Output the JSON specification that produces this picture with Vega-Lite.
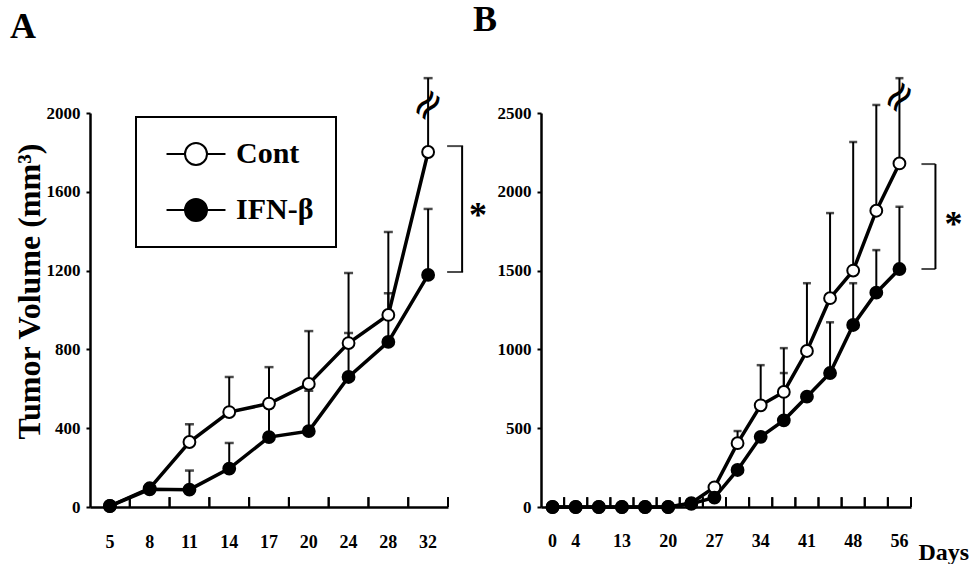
{
  "$schema": "https://vega.github.io/schema/vega-lite/v6.json",
  "background": "white",
  "padding": {"left": 10, "top": 2, "right": 0, "bottom": 0},
  "config": {
    "font": "Liberation Serif",
    "view": {"stroke": null},
    "axis": {"domainColor": "black", "domainWidth": 2.5, "tickColor": "black", "tickWidth": 2, "labelColor": "black", "labelFont": "Liberation Serif", "labelFontWeight": "bold", "grid": false, "titleColor": "black", "titleFont": "Liberation Serif", "titleFontWeight": "bold"},
    "axisX": {"ticks": false, "labelPadding": 26, "labelFontSize": 18, "labelAngle": 0, "labelOverlap": false, "labelFlush": false},
    "axisY": {"ticks": true, "tickSize": 4, "labelPadding": 6, "labelFontSize": 17, "format": "d"},
    "title": {"font": "Liberation Serif", "fontWeight": "bold", "fontSize": 36, "anchor": "start", "color": "black", "frame": "group"},
    "legend": {"strokeWidth": 2}
  },
  "bounds": "flush",
  "spacing": 93,
  "resolve": {"scale": {"x": "independent", "y": "independent", "fill": "independent"}, "legend": {"fill": "independent"}},
  "datasets": {
    "A": [
      {"day": "5", "group": "Cont", "v": 5, "up": null},
      {"day": "8", "group": "Cont", "v": 95, "up": null},
      {"day": "11", "group": "Cont", "v": 330, "up": 420},
      {"day": "14", "group": "Cont", "v": 482, "up": 660},
      {"day": "17", "group": "Cont", "v": 525, "up": 710},
      {"day": "20", "group": "Cont", "v": 625, "up": 893},
      {"day": "24", "group": "Cont", "v": 832, "up": 1188},
      {"day": "28", "group": "Cont", "v": 975, "up": 1396},
      {"day": "32", "group": "Cont", "v": 1802, "up": 2177},
      {"day": "5", "group": "IFN-β", "v": 5, "up": null},
      {"day": "8", "group": "IFN-β", "v": 90, "up": null},
      {"day": "11", "group": "IFN-β", "v": 88, "up": 185},
      {"day": "14", "group": "IFN-β", "v": 195, "up": 325},
      {"day": "17", "group": "IFN-β", "v": 355, "up": 505},
      {"day": "20", "group": "IFN-β", "v": 385, "up": 590},
      {"day": "24", "group": "IFN-β", "v": 660, "up": 883},
      {"day": "28", "group": "IFN-β", "v": 838, "up": 1085},
      {"day": "32", "group": "IFN-β", "v": 1178, "up": 1513}
    ],
    "annA": [{"day": "32", "top": 1832, "bottom": 1193, "mid": 1505, "brk": 2040}],
    "B": [
      {"day": "0", "group": "Cont", "v": 0, "up": null},
      {"day": "4", "group": "Cont", "v": 0, "up": null},
      {"day": "8", "group": "Cont", "v": 0, "up": null},
      {"day": "13", "group": "Cont", "v": 0, "up": null},
      {"day": "16", "group": "Cont", "v": 0, "up": null},
      {"day": "20", "group": "Cont", "v": 0, "up": null},
      {"day": "23", "group": "Cont", "v": 25, "up": null},
      {"day": "27", "group": "Cont", "v": 125, "up": null},
      {"day": "30", "group": "Cont", "v": 405, "up": 482},
      {"day": "34", "group": "Cont", "v": 645, "up": 900},
      {"day": "37", "group": "Cont", "v": 730, "up": 1008},
      {"day": "41", "group": "Cont", "v": 990, "up": 1420},
      {"day": "44", "group": "Cont", "v": 1325, "up": 1865},
      {"day": "48", "group": "Cont", "v": 1500, "up": 2316},
      {"day": "52", "group": "Cont", "v": 1880, "up": 2551},
      {"day": "56", "group": "Cont", "v": 2180, "up": 2721},
      {"day": "0", "group": "IFN-β", "v": 0, "up": null},
      {"day": "4", "group": "IFN-β", "v": 0, "up": null},
      {"day": "8", "group": "IFN-β", "v": 0, "up": null},
      {"day": "13", "group": "IFN-β", "v": 0, "up": null},
      {"day": "16", "group": "IFN-β", "v": 0, "up": null},
      {"day": "20", "group": "IFN-β", "v": 0, "up": null},
      {"day": "23", "group": "IFN-β", "v": 20, "up": null},
      {"day": "27", "group": "IFN-β", "v": 60, "up": null},
      {"day": "30", "group": "IFN-β", "v": 235, "up": null},
      {"day": "34", "group": "IFN-β", "v": 445, "up": null},
      {"day": "37", "group": "IFN-β", "v": 550, "up": 850},
      {"day": "41", "group": "IFN-β", "v": 700, "up": null},
      {"day": "44", "group": "IFN-β", "v": 850, "up": 1172},
      {"day": "48", "group": "IFN-β", "v": 1155, "up": 1420},
      {"day": "52", "group": "IFN-β", "v": 1360, "up": 1630},
      {"day": "56", "group": "IFN-β", "v": 1510, "up": 1905}
    ],
    "annB": [{"day": "56", "top": 2176, "bottom": 1510, "mid": 1821, "brk": 2600}]
  },
  "hconcat": [
    {
      "width": 358,
      "height": 394,
      "title": {"text": "A", "dx": -80, "offset": 31},
      "encoding": {
        "x": {"field": "day", "type": "ordinal", "sort": null, "scale": {"type": "band", "paddingInner": 0, "paddingOuter": 0, "domain": ["5", "8", "11", "14", "17", "20", "24", "28", "32"]}, "axis": {"title": null}},
        "y": {"field": "v", "type": "quantitative", "scale": {"domain": [0, 2000], "nice": false}, "axis": {"values": [0, 400, 800, 1200, 1600, 2000], "title": "Tumor Volume (mm³)", "titleFontSize": 32, "titlePadding": 0, "titleY": 178}}
      },
      "layer": [
        {"data": {"name": "A"}, "mark": {"type": "rule", "color": "black", "strokeWidth": 2, "xOffset": 19.9, "clip": false}, "encoding": {"y": {"datum": 0, "type": "quantitative"}, "y2": {"datum": 50}}},
        {"data": {"name": "A"}, "transform": [{"filter": "isValid(datum.up)"}], "mark": {"type": "rule", "color": "black", "strokeWidth": 2, "clip": false}, "encoding": {"y2": {"field": "up"}}},
        {"data": {"name": "A"}, "transform": [{"filter": "isValid(datum.up)"}], "mark": {"type": "tick", "color": "black", "size": 9, "thickness": 2.5, "clip": false}, "encoding": {"y": {"field": "up", "type": "quantitative"}}},
        {"data": {"name": "A"}, "mark": {"type": "line", "color": "black", "strokeWidth": 3.5}, "encoding": {"detail": {"field": "group"}}},
        {"data": {"name": "A"}, "mark": {"type": "point", "shape": "circle", "filled": true, "size": 140, "stroke": "black", "strokeWidth": 2, "opacity": 1},
         "encoding": {"fill": {"field": "group", "type": "nominal", "scale": {"domain": ["Cont", "IFN-β"], "range": ["white", "black"]},
           "legend": {"title": null, "orient": "none", "legendX": 46, "legendY": 4, "symbolType": "M-2.68,0L-1,0M1,0L2.68,0M-1,0A1,1 0 1 1 1,0A1,1 0 1 1 -1,0Z", "symbolSize": 484, "symbolStrokeWidth": 2, "symbolStrokeColor": "black", "labelFontSize": 30, "labelFont": "Liberation Serif", "labelFontWeight": "bold", "labelColor": "black", "labelOffset": 25, "padding": 22, "symbolOffset": 23, "rowPadding": 26, "strokeColor": "black"}}}},
        {"data": {"name": "annA"}, "mark": {"type": "rule", "color": "black", "strokeWidth": 2, "xOffset": 34, "clip": false}, "encoding": {"y": {"field": "top", "type": "quantitative"}, "y2": {"field": "bottom"}}},
        {"data": {"name": "annA"}, "mark": {"type": "tick", "color": "black", "size": 16, "thickness": 2, "xOffset": 27, "clip": false}, "encoding": {"y": {"field": "top", "type": "quantitative"}}},
        {"data": {"name": "annA"}, "mark": {"type": "tick", "color": "black", "size": 16, "thickness": 2, "xOffset": 27, "clip": false}, "encoding": {"y": {"field": "bottom", "type": "quantitative"}}},
        {"data": {"name": "annA"}, "mark": {"type": "text", "text": "*", "font": "Liberation Serif", "fontWeight": "bold", "fontSize": 36, "xOffset": 50, "dy": 5, "color": "black", "clip": false}, "encoding": {"y": {"field": "mid", "type": "quantitative"}}},
        {"data": {"name": "annA"}, "mark": {"type": "text", "text": "≈", "font": "DejaVu Sans", "fontSize": 42, "angle": -50, "color": "black", "clip": false}, "encoding": {"y": {"field": "brk", "type": "quantitative"}}}
      ]
    },
    {
      "width": 370,
      "height": 394,
      "title": {"text": "B", "dx": -68, "offset": 31},
      "encoding": {
        "x": {"field": "day", "type": "ordinal", "sort": null, "scale": {"type": "band", "paddingInner": 0, "paddingOuter": 0, "domain": ["0", "4", "8", "13", "16", "20", "23", "27", "30", "34", "37", "41", "44", "48", "52", "56"]},
          "axis": {"labelPadding": 25, "labelExpr": "indexof(['0','4','13','20','27','34','41','48','56'], datum.value) >= 0 ? datum.label : ''", "title": "Days", "titleFontSize": 24, "titleX": 377, "titleY": 52, "titleAlign": "left", "titleBaseline": "alphabetic", "titleAngle": 0}},
        "y": {"field": "v", "type": "quantitative", "scale": {"domain": [0, 2500], "nice": false}, "axis": {"values": [0, 500, 1000, 1500, 2000, 2500], "title": null}}
      },
      "layer": [
        {"data": {"name": "B"}, "mark": {"type": "rule", "color": "black", "strokeWidth": 2, "xOffset": 11.56, "clip": false}, "encoding": {"y": {"datum": 0, "type": "quantitative"}, "y2": {"datum": 62}}},
        {"data": {"name": "B"}, "transform": [{"filter": "isValid(datum.up)"}], "mark": {"type": "rule", "color": "black", "strokeWidth": 2, "clip": false}, "encoding": {"y2": {"field": "up"}}},
        {"data": {"name": "B"}, "transform": [{"filter": "isValid(datum.up)"}], "mark": {"type": "tick", "color": "black", "size": 8, "thickness": 2.5, "clip": false}, "encoding": {"y": {"field": "up", "type": "quantitative"}}},
        {"data": {"name": "B"}, "mark": {"type": "line", "color": "black", "strokeWidth": 3.5}, "encoding": {"detail": {"field": "group"}}},
        {"data": {"name": "B"}, "mark": {"type": "point", "shape": "circle", "filled": true, "size": 140, "stroke": "black", "strokeWidth": 2, "opacity": 1},
         "encoding": {"fill": {"field": "group", "type": "nominal", "scale": {"domain": ["Cont", "IFN-β"], "range": ["white", "black"]}, "legend": null}}},
        {"data": {"name": "annB"}, "mark": {"type": "rule", "color": "black", "strokeWidth": 2, "xOffset": 36, "clip": false}, "encoding": {"y": {"field": "top", "type": "quantitative"}, "y2": {"field": "bottom"}}},
        {"data": {"name": "annB"}, "mark": {"type": "tick", "color": "black", "size": 14, "thickness": 2, "xOffset": 29, "clip": false}, "encoding": {"y": {"field": "top", "type": "quantitative"}}},
        {"data": {"name": "annB"}, "mark": {"type": "tick", "color": "black", "size": 14, "thickness": 2, "xOffset": 29, "clip": false}, "encoding": {"y": {"field": "bottom", "type": "quantitative"}}},
        {"data": {"name": "annB"}, "mark": {"type": "text", "text": "*", "font": "Liberation Serif", "fontWeight": "bold", "fontSize": 36, "xOffset": 54, "dy": 5, "color": "black", "clip": false}, "encoding": {"y": {"field": "mid", "type": "quantitative"}}},
        {"data": {"name": "annB"}, "mark": {"type": "text", "text": "≈", "font": "DejaVu Sans", "fontSize": 42, "angle": -50, "color": "black", "clip": false}, "encoding": {"y": {"field": "brk", "type": "quantitative"}}}
      ]
    }
  ]
}
